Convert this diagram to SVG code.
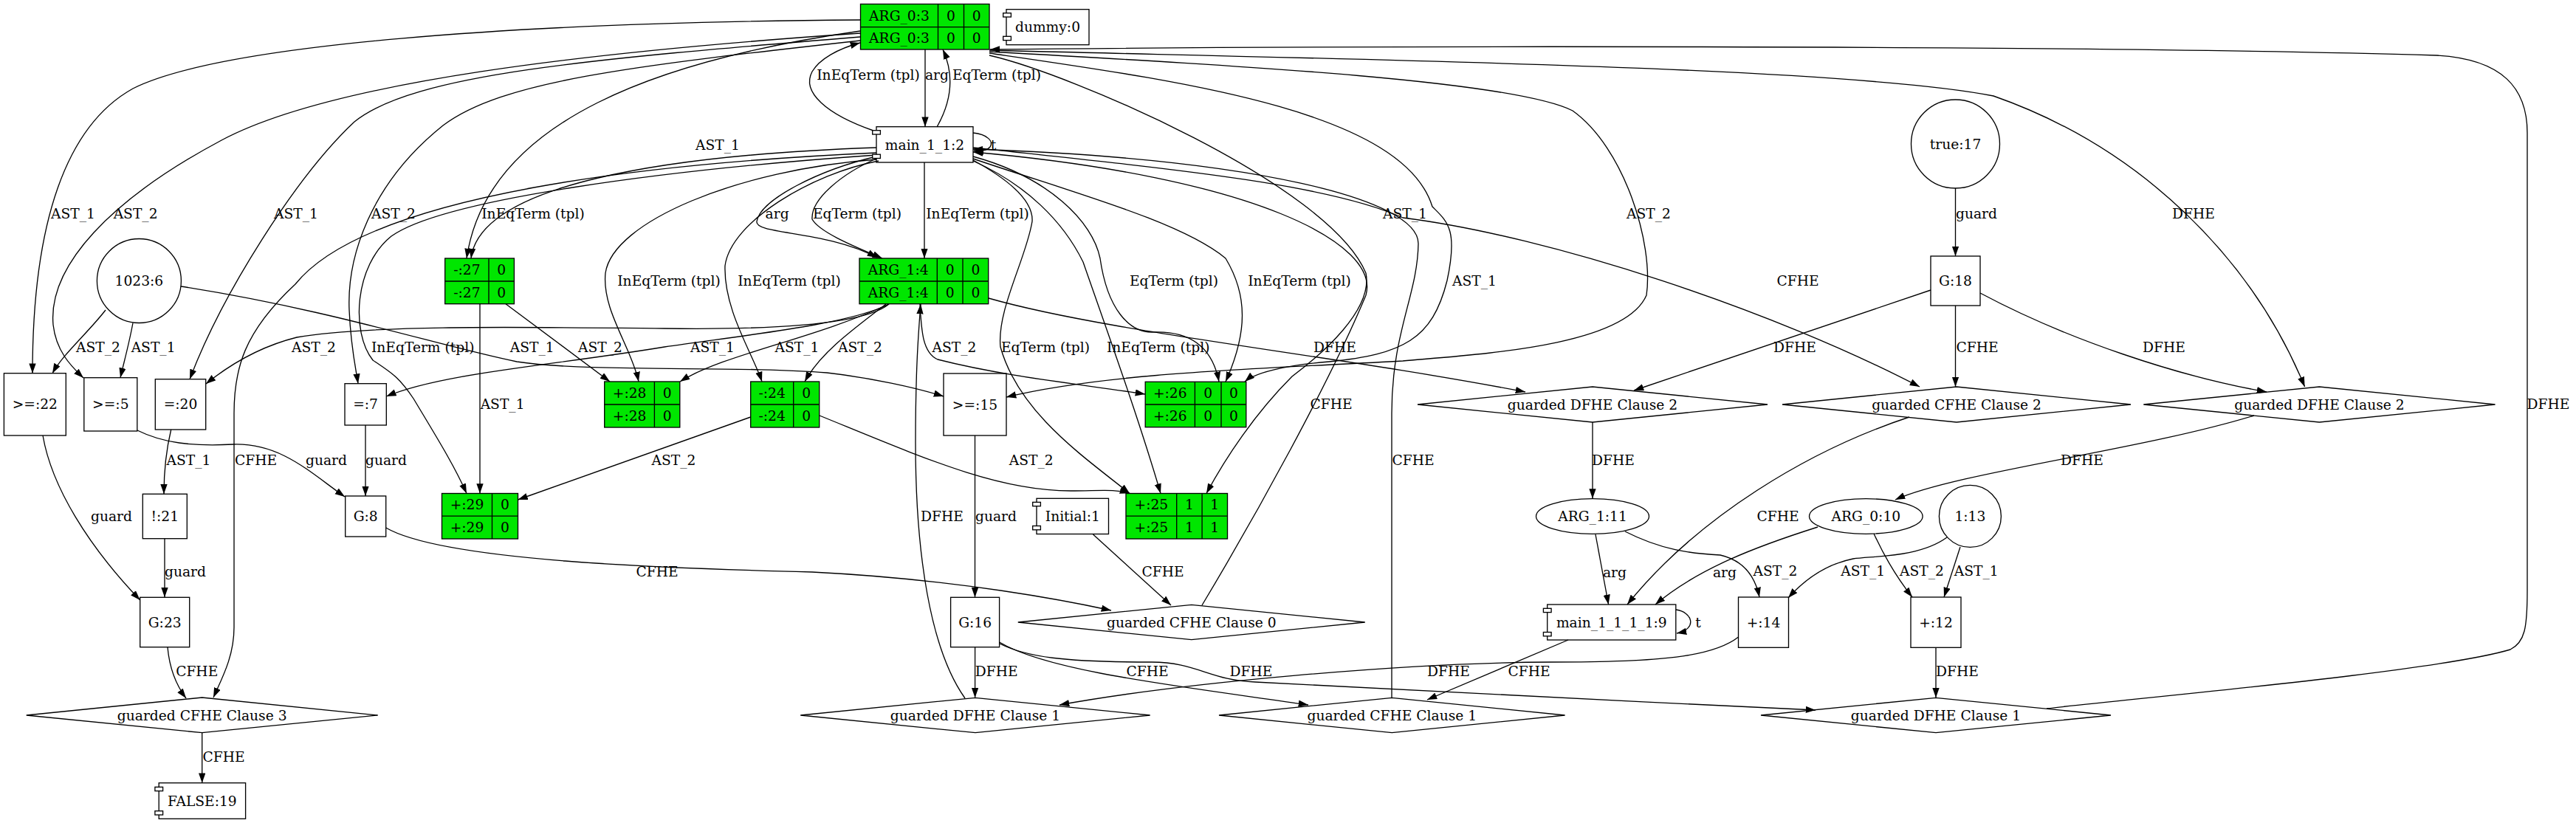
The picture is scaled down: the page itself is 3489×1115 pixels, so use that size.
<svg xmlns="http://www.w3.org/2000/svg" width="3489" height="1115" viewBox="0 0 3489 1115">
<defs>
<marker id="a" viewBox="0 0 14 10" refX="13.3" refY="4.67" markerWidth="14" markerHeight="10" markerUnits="userSpaceOnUse" orient="auto"><path d="M0,0 L13.3,4.67 L0,9.33 z" fill="#000"/></marker>
<style>
.t{font-family:"DejaVu Serif","Liberation Serif",serif;font-size:18.67px;text-anchor:middle;fill:#000}
.e path{fill:none;stroke:#000;stroke-width:1.33;marker-end:url(#a)}
.b{fill:none;stroke:#000;stroke-width:1.33}
.w{fill:#fff;stroke:#000;stroke-width:1.33}
.g{fill:#00e600;stroke:#000;stroke-width:1.33}
.l{stroke:#000;stroke-width:1.33}
</style>
</defs>
<rect width="3489" height="1115" fill="#fff"/>
<g id="edges" class="e">
<path d="M1253,67 L1253,171.7"/>
<path d="M1269,172 C1290,135 1292,100 1277,67"/>
<path d="M1183,177 C1120,155 1085,125 1100,97 C1110,80 1135,66 1165,58"/>
<path d="M1318,180 C1338,182 1346,192 1341,199 C1337,204 1329,205 1319,204"/>
<path d="M1252,220 L1252,350"/>
<path d="M1189,214 C1140,235 1098,270 1100,297 C1110,315 1160,335 1195,350"/>
<path d="M1187,212 C1110,230 1030,270 1025,300 C1022,318 1120,312 1188,349"/>
<path d="M1165,42 C900,80 660,160 632,350"/>
<path d="M1187,200 C900,210 650,250 638,350"/>
<path d="M1165,27 C700,30 300,60 180,120 C90,170 44,300 44,505.7"/>
<path d="M1165,45 C800,70 450,110 300,190 C150,270 65,360 72,440 C76,475 95,495 113,512"/>
<path d="M1165,50 C800,80 560,100 480,165 C400,240 300,400 257,513.7"/>
<path d="M1165,55 C850,90 680,110 600,170 C500,250 470,350 473,420 C475,470 482,500 485,519.7"/>
<path d="M143,420 C120,450 85,480 71,505.7"/>
<path d="M180,437.5 C175,465 168,490 163,511.7"/>
<path d="M245,388 C450,420 600,470 700,490 C800,505 1000,495 1120,505 C1180,512 1240,525 1278,537"/>
<path d="M1204,412 C1170,440 1050,447 900,445 C700,443 500,440 402,457 C350,470 310,495 279,520"/>
<path d="M1204,412 C1150,440 1000,455 900,470 C750,495 600,505 523.3,537"/>
<path d="M1204,412 C1100,460 980,480 921,517"/>
<path d="M1200,412 C1150,450 1110,480 1090,517"/>
<path d="M650,411.7 L650,668.5"/>
<path d="M685,411.7 L826,517"/>
<path d="M1187,216 C1000,230 830,300 820,370 C815,420 855,470 865,517"/>
<path d="M1190,218 C1100,235 990,300 982,360 C980,420 1020,480 1032,517"/>
<path d="M1187,210 C900,230 600,270 530,320 C480,360 475,450 505,488 C530,505 540,510 560,540 C590,590 615,630 632,668.5"/>
<path d="M1187,207 C900,220 500,260 400,385 C330,450 317,500 317,560 L317,850 C317,890 300,920 289,945"/>
<path d="M1016.7,565 L701.5,677"/>
<path d="M1110,563 C1250,620 1350,665 1450,665 C1490,665 1510,662 1530,668.5"/>
<path d="M1246,412 C1248,450 1250,478 1270,487 C1360,510 1460,520 1551,534"/>
<path d="M1307,946 C1260,880 1240,750 1240,600 C1240,500 1244,450 1247,412"/>
<path d="M1320.5,590 L1320.5,809.3"/>
<path d="M1320.6,876.7 L1320.6,945.3"/>
<path d="M1353.6,870 C1420,910 1600,930 1772,955"/>
<path d="M1354,872 C1390,890 1440,897 1560,897 C1620,897 1640,922 1700,924 C1900,935 2200,950 2459,962"/>
<path d="M2354.6,863 C2320,890 2250,897 2100,897 C1900,898 1600,925 1435,955"/>
<path d="M2124,867 L1933,948"/>
<path d="M2622,877.3 L2622,945.3"/>
<path d="M2772,960 C2900,945 3300,910 3400,880 C3420,870 3423,850 3423,800 L3423,180 C3423,120 3390,80 3300,75 C2800,60 1800,62 1341,67"/>
<path d="M1340,68 C1800,80 2500,90 2700,130 C2900,200 3050,350 3121.6,523.9"/>
<path d="M1340,70 C1700,90 2050,110 2130,150 C2200,200 2240,330 2230,400 C2200,470 2000,480 1900,489 C1700,500 1500,505 1363,538"/>
<path d="M1340,72 C1600,110 1900,150 1940,280 C1960,300 1975,310 1960,380 C1940,460 1900,480 1800,490 C1740,495 1700,505 1686,517"/>
<path d="M1340,75 C1450,100 1800,250 1850,370 C1860,420 1790,480 1750,510 C1700,560 1660,620 1634,668.5"/>
<path d="M1318,200 C1600,230 1800,250 1900,295 C2100,320 2400,420 2600,524"/>
<path d="M1628,820 C1700,700 1800,520 1850,400 C1870,330 1700,240 1318,206"/>
<path d="M1885,945 L1885,560 C1885,450 1920,400 1921,330 C1921,270 1700,215 1318,202"/>
<path d="M1318,212 C1420,240 1480,300 1490,350 C1500,420 1530,450 1560,450 C1600,448 1640,460 1651,517"/>
<path d="M1318,215 C1450,260 1600,300 1660,350 C1690,400 1690,450 1660,517"/>
<path d="M1318,217 C1360,240 1400,270 1398,300 C1390,350 1350,420 1355,470 C1380,560 1470,620 1530,668.5"/>
<path d="M1318,218 C1390,250 1440,300 1467,355 C1500,450 1540,560 1572,668.5"/>
<path d="M1339,404 C1500,450 1800,480 2066,531"/>
<path d="M2648.5,255 L2648.5,347"/>
<path d="M2615,393 L2213,529"/>
<path d="M2648.5,414 L2648.5,524"/>
<path d="M2682,397 C2800,460 2950,510 3070,531"/>
<path d="M2157,572 L2157,675.5"/>
<path d="M3053,563 C2900,610 2650,640 2567,677"/>
<path d="M2586,565 C2450,610 2300,700 2204,819"/>
<path d="M2161,724 L2178.6,819"/>
<path d="M2462,714 C2380,740 2300,770 2242,819"/>
<path d="M2201,720 C2250,745 2290,750 2330,752 C2365,760 2378,785 2383,809"/>
<path d="M2637,728 C2600,755 2540,753 2510,757 C2470,765 2440,790 2422,810"/>
<path d="M2538,723 C2555,760 2575,790 2590,809"/>
<path d="M2655,741 L2633,809"/>
<path d="M2270,826 C2292,829 2300,852 2271,858"/>
<path d="M522.7,715 C600,760 900,770 1100,775 C1300,785 1450,815 1505,827"/>
<path d="M1480.5,724 L1586,820"/>
<path d="M495,576 L495,672"/>
<path d="M186,583 C220,600 260,605 316,602 C380,600 420,640 467,673"/>
<path d="M231.7,582 C225,610 222,640 222,669.3"/>
<path d="M223,729.7 L223,809.3"/>
<path d="M58,590 C70,660 120,740 189.7,813"/>
<path d="M227,877 C230,910 240,930 252,946"/>
<path d="M273.7,992.7 L273.7,1060.7"/>
</g>
<g id="labels">
<text class="t" x="1176" y="107.5">InEqTerm (tpl)</text>
<text class="t" x="1269" y="107.5">arg</text>
<text class="t" x="1350" y="107.5">EqTerm (tpl)</text>
<text class="t" x="1345.5" y="202.5">t</text>
<text class="t" x="972" y="202.5">AST_1</text>
<text class="t" x="99" y="295.5">AST_1</text>
<text class="t" x="183.6" y="295.5">AST_2</text>
<text class="t" x="401" y="295.5">AST_1</text>
<text class="t" x="533" y="295.5">AST_2</text>
<text class="t" x="722" y="295.5">InEqTerm (tpl)</text>
<text class="t" x="1052.6" y="295.5">arg</text>
<text class="t" x="1161" y="295.5">EqTerm (tpl)</text>
<text class="t" x="1324" y="295.5">InEqTerm (tpl)</text>
<text class="t" x="1903" y="295.5">AST_1</text>
<text class="t" x="2233" y="295.5">AST_2</text>
<text class="t" x="2677" y="295.5">guard</text>
<text class="t" x="2971" y="295.5">DFHE</text>
<text class="t" x="906" y="386.5">InEqTerm (tpl)</text>
<text class="t" x="1069" y="386.5">InEqTerm (tpl)</text>
<text class="t" x="1590" y="386.5">EqTerm (tpl)</text>
<text class="t" x="1760" y="386.5">InEqTerm (tpl)</text>
<text class="t" x="1997" y="386.5">AST_1</text>
<text class="t" x="2435" y="386.5">CFHE</text>
<text class="t" x="133" y="477">AST_2</text>
<text class="t" x="207.6" y="477">AST_1</text>
<text class="t" x="425" y="477">AST_2</text>
<text class="t" x="572.7" y="477">InEqTerm (tpl)</text>
<text class="t" x="720.8" y="477">AST_1</text>
<text class="t" x="813" y="477">AST_2</text>
<text class="t" x="965" y="477">AST_1</text>
<text class="t" x="1079.5" y="477">AST_1</text>
<text class="t" x="1165" y="477">AST_2</text>
<text class="t" x="1292.5" y="477">AST_2</text>
<text class="t" x="1416" y="477">EqTerm (tpl)</text>
<text class="t" x="1568.7" y="477">InEqTerm (tpl)</text>
<text class="t" x="1808" y="477">DFHE</text>
<text class="t" x="2431" y="477">DFHE</text>
<text class="t" x="2678" y="477">CFHE</text>
<text class="t" x="2931" y="477">DFHE</text>
<text class="t" x="680.6" y="553.5">AST_1</text>
<text class="t" x="1803" y="553.5">CFHE</text>
<text class="t" x="3451.5" y="553.5">DFHE</text>
<text class="t" x="255.5" y="629.5">AST_1</text>
<text class="t" x="346.5" y="629.5">CFHE</text>
<text class="t" x="442" y="629.5">guard</text>
<text class="t" x="523" y="629.5">guard</text>
<text class="t" x="912.5" y="629.5">AST_2</text>
<text class="t" x="1396.8" y="629.5">AST_2</text>
<text class="t" x="1914" y="629.5">CFHE</text>
<text class="t" x="2185" y="629.5">DFHE</text>
<text class="t" x="2820" y="629.5">DFHE</text>
<text class="t" x="151" y="705.5">guard</text>
<text class="t" x="1276" y="705.5">DFHE</text>
<text class="t" x="1349" y="705.5">guard</text>
<text class="t" x="2408" y="705.5">CFHE</text>
<text class="t" x="251" y="780.5">guard</text>
<text class="t" x="890" y="780.5">CFHE</text>
<text class="t" x="1575" y="780.5">CFHE</text>
<text class="t" x="2187" y="781.5">arg</text>
<text class="t" x="2336" y="781.5">arg</text>
<text class="t" x="2404.5" y="780">AST_2</text>
<text class="t" x="2523.3" y="780">AST_1</text>
<text class="t" x="2603" y="780">AST_2</text>
<text class="t" x="2676.7" y="780">AST_1</text>
<text class="t" x="2300" y="849.5">t</text>
<text class="t" x="266.7" y="916">CFHE</text>
<text class="t" x="1349.7" y="916">DFHE</text>
<text class="t" x="1554" y="916">CFHE</text>
<text class="t" x="1694.5" y="916">DFHE</text>
<text class="t" x="1962" y="916">DFHE</text>
<text class="t" x="2071" y="916">CFHE</text>
<text class="t" x="2651" y="916">DFHE</text>
<text class="t" x="303" y="1032">CFHE</text>
</g>
<g id="n0"><rect class="b" x="1363" y="12.7" width="112" height="48"/><rect class="w" x="1358.7" y="17.7" width="10.7" height="5.3"/><rect class="w" x="1358.7" y="49.3" width="10.7" height="5.3"/><text class="t" x="1419" y="43.2">dummy:0</text></g>
<g id="n1"><rect class="b" x="1404" y="675.3" width="97.5" height="48.2"/><rect class="w" x="1398.7" y="680.4" width="10.7" height="5.3"/><rect class="w" x="1398.7" y="712.5" width="10.7" height="5.3"/><text class="t" x="1452.8" y="706">Initial:1</text></g>
<g id="n2"><rect class="b" x="1187" y="171.7" width="131" height="48.3"/><rect class="w" x="1181.7" y="176.7" width="10.7" height="5.3"/><rect class="w" x="1181.7" y="209.2" width="10.7" height="5.3"/><text class="t" x="1252.5" y="202.5">main_1_1:2</text></g>
<g id="n3"><rect class="g" x="1165.5" y="5.5" width="174.5" height="61.5"/><path class="l" d="M1165.5,36.7 H1340 M1270.5,5.5 V67 M1305.5,5.5 V67"/><text class="t" x="1218" y="27.6">ARG_0:3</text><text class="t" x="1288" y="27.6">0</text><text class="t" x="1322.8" y="27.6">0</text><text class="t" x="1218" y="58.4">ARG_0:3</text><text class="t" x="1288" y="58.4">0</text><text class="t" x="1322.8" y="58.4">0</text></g>
<g id="n4"><rect class="g" x="1164" y="350" width="174.7" height="61.7"/><path class="l" d="M1164,381 H1338.7 M1269.3,350 V411.7 M1304,350 V411.7"/><text class="t" x="1216.7" y="372">ARG_1:4</text><text class="t" x="1286.7" y="372">0</text><text class="t" x="1321.4" y="372">0</text><text class="t" x="1216.7" y="402.9">ARG_1:4</text><text class="t" x="1286.7" y="402.9">0</text><text class="t" x="1321.4" y="402.9">0</text></g>
<g id="n5"><rect class="b" x="113.8" y="511.7" width="72" height="72.3"/><text class="t" x="149.8" y="554.4">&gt;=:5</text></g>
<g id="n6"><ellipse class="b" cx="188.4" cy="380.5" rx="57" ry="57"/><text class="t" x="188.4" y="387">1023:6</text></g>
<g id="n7"><rect class="b" x="467" y="519.7" width="56.3" height="56.3"/><text class="t" x="495.1" y="554.4">=:7</text></g>
<g id="n8"><rect class="b" x="467.7" y="672" width="55" height="55"/><text class="t" x="495.2" y="706">G:8</text></g>
<g id="n9"><rect class="b" x="2095.7" y="819" width="174.1" height="48"/><rect class="w" x="2090.4" y="824.3" width="10.7" height="5.3"/><rect class="w" x="2090.4" y="856.5" width="10.7" height="5.3"/><text class="t" x="2182.8" y="849.5">main_1_1_1_1:9</text></g>
<g id="n10"><ellipse class="b" cx="2527.3" cy="699.5" rx="76.8" ry="23.8"/><text class="t" x="2527.3" y="706">ARG_0:10</text></g>
<g id="n11"><ellipse class="b" cx="2157" cy="699.5" rx="76.5" ry="23.8"/><text class="t" x="2157" y="706">ARG_1:11</text></g>
<g id="n12"><rect class="b" x="2588" y="809" width="68" height="68.3"/><text class="t" x="2622" y="849.7">+:12</text></g>
<g id="n13"><ellipse class="b" cx="2668.4" cy="699.4" rx="42" ry="42"/><text class="t" x="2668.4" y="706">1:13</text></g>
<g id="n14"><rect class="b" x="2354.5" y="809" width="68" height="68.3"/><text class="t" x="2388.5" y="849.7">+:14</text></g>
<g id="n15"><rect class="b" x="1278" y="506" width="85" height="84"/><text class="t" x="1320.5" y="554.5">&gt;=:15</text></g>
<g id="n16"><rect class="b" x="1287.6" y="809.3" width="66" height="67.4"/><text class="t" x="1320.6" y="849.5">G:16</text></g>
<g id="n17"><ellipse class="b" cx="2648.5" cy="195" rx="60" ry="60"/><text class="t" x="2648.5" y="201.5">true:17</text></g>
<g id="n18"><rect class="b" x="2615" y="347" width="67" height="67"/><text class="t" x="2648.5" y="387">G:18</text></g>
<g id="n19"><rect class="b" x="215.2" y="1060.7" width="117.4" height="48.6"/><rect class="w" x="209.9" y="1066.3" width="10.7" height="5.3"/><rect class="w" x="209.9" y="1098.7" width="10.7" height="5.3"/><text class="t" x="273.9" y="1091.5">FALSE:19</text></g>
<g id="n20"><rect class="b" x="210.3" y="513.7" width="68.4" height="68.3"/><text class="t" x="244.5" y="554.4">=:20</text></g>
<g id="n21"><rect class="b" x="193.3" y="669.3" width="60" height="60.4"/><text class="t" x="223.3" y="706">!:21</text></g>
<g id="n22"><rect class="b" x="5.4" y="505.7" width="83.9" height="84.3"/><text class="t" x="47.3" y="554.4">&gt;=:22</text></g>
<g id="n23"><rect class="b" x="189.7" y="809.3" width="67" height="67.4"/><text class="t" x="223.2" y="849.5">G:23</text></g>
<g id="n24"><rect class="g" x="1016.7" y="517" width="93" height="62"/><path class="l" d="M1016.7,548 H1109.7 M1074.7,517 V579"/><text class="t" x="1045.7" y="539">-:24</text><text class="t" x="1092.2" y="539">0</text><text class="t" x="1045.7" y="570">-:24</text><text class="t" x="1092.2" y="570">0</text></g>
<g id="n25"><rect class="g" x="1525" y="668.5" width="137.5" height="61.5"/><path class="l" d="M1525,699.2 H1662.5 M1593.7,668.5 V730 M1628.1,668.5 V730"/><text class="t" x="1559.4" y="690.3">+:25</text><text class="t" x="1610.9" y="690.3">1</text><text class="t" x="1645.3" y="690.3">1</text><text class="t" x="1559.4" y="721">+:25</text><text class="t" x="1610.9" y="721">1</text><text class="t" x="1645.3" y="721">1</text></g>
<g id="n26"><rect class="g" x="1551.2" y="517.3" width="136.6" height="61.4"/><path class="l" d="M1551.2,548 H1687.8 M1618.4,517.3 V578.7 M1654,517.3 V578.7"/><text class="t" x="1584.8" y="539.2">+:26</text><text class="t" x="1636.2" y="539.2">0</text><text class="t" x="1670.9" y="539.2">0</text><text class="t" x="1584.8" y="569.9">+:26</text><text class="t" x="1636.2" y="569.9">0</text><text class="t" x="1670.9" y="569.9">0</text></g>
<g id="n27"><rect class="g" x="602.7" y="350" width="93.7" height="61.7"/><path class="l" d="M602.7,381 H696.4 M662,350 V411.7"/><text class="t" x="632.4" y="372">-:27</text><text class="t" x="679.2" y="372">0</text><text class="t" x="632.4" y="402.9">-:27</text><text class="t" x="679.2" y="402.9">0</text></g>
<g id="n28"><rect class="g" x="818.7" y="517" width="102.1" height="62"/><path class="l" d="M818.7,548 H920.8 M886.4,517 V579"/><text class="t" x="852.6" y="539">+:28</text><text class="t" x="903.6" y="539">0</text><text class="t" x="852.6" y="570">+:28</text><text class="t" x="903.6" y="570">0</text></g>
<g id="n29"><rect class="g" x="598.5" y="668.5" width="103" height="61.5"/><path class="l" d="M598.5,699.2 H701.5 M666.5,668.5 V730"/><text class="t" x="632.5" y="690.3">+:29</text><text class="t" x="684" y="690.3">0</text><text class="t" x="632.5" y="721">+:29</text><text class="t" x="684" y="721">0</text></g>
<g id="d0"><polygon class="b" points="1378.8,843 1613.8,819.3 1848.8,843 1613.8,866.7"/><text class="t" x="1613.8" y="849.5">guarded CFHE Clause 0</text></g>
<g id="d1a"><polygon class="b" points="1084.2,969 1321,945.3 1557.7,969 1321,992.7"/><text class="t" x="1321" y="975.5">guarded DFHE Clause 1</text></g>
<g id="d1b"><polygon class="b" points="1651,969 1885.3,945.3 2119.6,969 1885.3,992.7"/><text class="t" x="1885.3" y="975.5">guarded CFHE Clause 1</text></g>
<g id="d1c"><polygon class="b" points="2385,969 2622,945.3 2859,969 2622,992.7"/><text class="t" x="2622" y="975.5">guarded DFHE Clause 1</text></g>
<g id="d2a"><polygon class="b" points="1920,548 2157,524 2394,548 2157,572"/><text class="t" x="2157" y="554.5">guarded DFHE Clause 2</text></g>
<g id="d2b"><polygon class="b" points="2414,548 2650,524 2886,548 2650,572"/><text class="t" x="2650" y="554.5">guarded CFHE Clause 2</text></g>
<g id="d2c"><polygon class="b" points="2903.3,548 3141.4,524 3379.5,548 3141.4,572"/><text class="t" x="3141.4" y="554.5">guarded DFHE Clause 2</text></g>
<g id="d3"><polygon class="b" points="35.7,969 273.7,945 511.7,969 273.7,992.7"/><text class="t" x="273.7" y="975.5">guarded CFHE Clause 3</text></g>
</svg>
